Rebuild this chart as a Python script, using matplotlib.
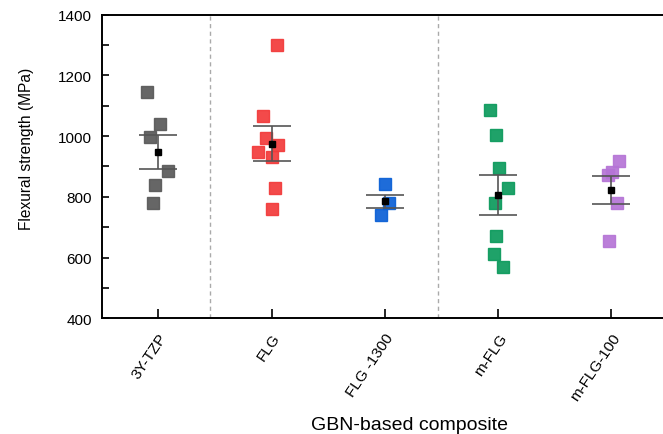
import numpy as np
import matplotlib
matplotlib.use('Agg')
import matplotlib.pyplot as plt

plt.rcParams['font.family'] = ['Liberation Sans', 'DejaVu Sans']

# Data #######################################################################

groups = ['3Y-TZP', 'FLG', 'FLG -1300', 'm-FLG', 'm-FLG-100']
colors = ['#595959', '#f23a3a', '#0a5fd6', '#0c9a5c', '#b574d6']

# individual specimens (MPa) and their horizontal jitter around the category
vals_3y = [1146, 1039, 998, 886, 839, 779]
jit_3y = [-0.10, 0.015, -0.073, 0.086, -0.03, -0.047]
vals_flg = [1301, 1067, 993, 971, 947, 932, 829, 760]
jit_flg = [0.044, -0.074, -0.05, 0.053, -0.118, 0.003, 0.032, 0.003]
vals_flg1300 = [843, 779, 739]
jit_flg1300 = [0.006, 0.04, -0.03]
vals_mflg = [1087, 1003, 895, 829, 781, 670, 613, 570]
jit_mflg = [-0.067, -0.018, 0.009, 0.086, -0.023, -0.02, -0.038, 0.048]
vals_mflg100 = [918, 883, 872, 779, 656]
jit_mflg100 = [0.07, 0.004, -0.03, 0.05, -0.024]

means = [948, 975, 785, 806, 822]
errs = [56, 57, 21, 66, 47]

all_vals = [vals_3y, vals_flg, vals_flg1300, vals_mflg, vals_mflg100]
all_jit = [jit_3y, jit_flg, jit_flg1300, jit_mflg, jit_mflg100]

# Plot #######################################################################

fig = plt.figure(figsize=(6.63, 4.35), dpi=100)
# right edge of the frame sits just outside the picture (cropped like the original)
ax = fig.add_axes([0.1534, 0.266, 0.854, 0.698])

xpos = np.arange(1, len(groups) + 1)

for i in range(len(groups)):
    x = xpos[i] + np.array(all_jit[i])
    ax.plot(x, all_vals[i], 's', ms=8.2, color=colors[i], mec=colors[i],
            alpha=0.92, zorder=2)

ax.errorbar(xpos, means, yerr=errs, fmt='none', ecolor='#555555',
            elinewidth=1.2, capsize=13.5, capthick=1.2, zorder=3)
ax.plot(xpos, means, 's', ms=5, color='black', zorder=4)

for xv in [1.46, 3.47]:
    ax.axvline(xv, color='#aaaaaa', ls='--', lw=1.0, dashes=(3, 2.5), zorder=1)

ax.set_xlim(0.5, 5.5)
ax.set_ylim(400, 1400)
ax.set_yticks(np.arange(400, 1401, 200))
ax.set_yticks(np.arange(500, 1400, 200), minor=True)
ax.set_xticks(xpos)
ax.set_xticklabels(groups, rotation=56, ha='right', rotation_mode='anchor')

ax.tick_params(axis='both', direction='in', length=5, width=1.2,
               labelsize=11, pad=7)
ax.tick_params(axis='y', which='minor', direction='in', length=5, width=1.2)
ax.tick_params(axis='x', length=6.5, pad=9)

for s in ['left', 'bottom', 'top']:
    ax.spines[s].set_linewidth(1.4)
ax.spines['right'].set_visible(False)

ax.set_ylabel('Flexural strength (MPa)', fontsize=11.2)
ax.yaxis.label.set(ha='center', va='center', rotation_mode='default')
ax.yaxis.set_label_coords(-0.1337, 0.561)

ax.set_xlabel('GBN-based composite', fontsize=14)
ax.xaxis.label.set(ha='center', va='baseline')
ax.xaxis.set_label_coords(0.544, -0.3646)

fig.savefig('out.png', dpi=100)
